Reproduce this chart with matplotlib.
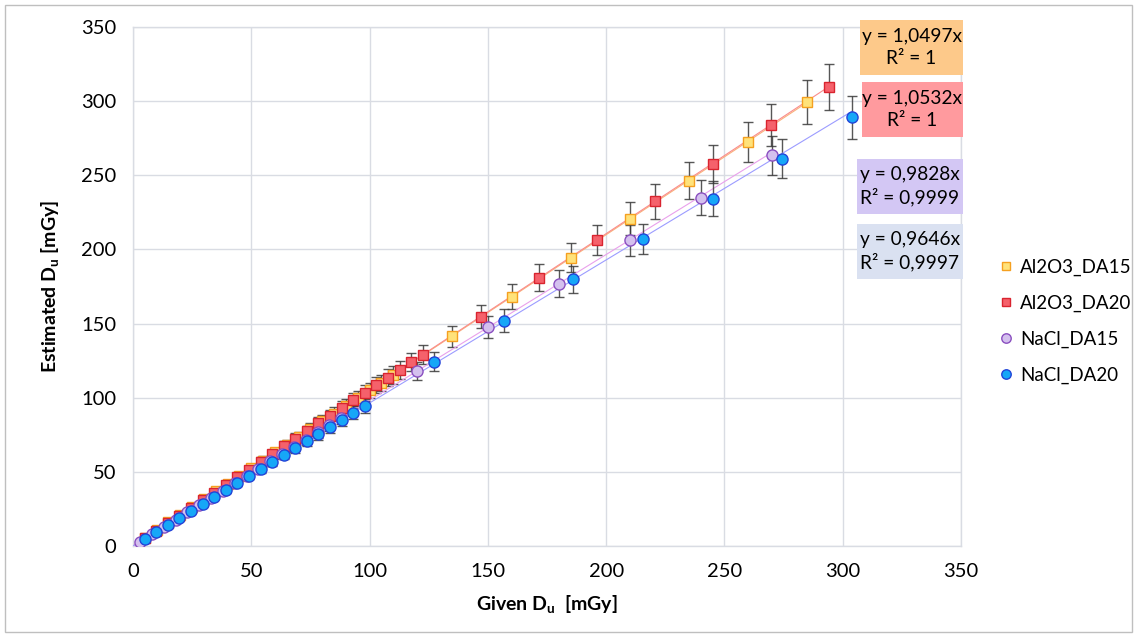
import matplotlib
matplotlib.use("Agg")
import matplotlib.pyplot as plt
from matplotlib.patches import Rectangle

plt.rcParams['font.family'] = ['Lato', 'DejaVu Sans']

# ---------------- data ----------------
a15_x = [5, 10, 15, 20, 25, 30, 35, 40, 45, 50, 55, 60, 65, 70, 75, 80, 85, 90, 95, 100,
         105, 110, 135, 160, 185, 210, 235, 260, 285]
a15_y = [5.4, 10.7, 15.9, 21.2, 26.4, 31.6, 37.2, 42.1, 47.3, 52.8, 57.6, 63.1, 68.3, 73.4,
         78.8, 84.0, 89.1, 94.5, 99.6, 105.0, 110.1, 115.3, 141.3, 168.0, 194.3, 220.8,
         246.4, 272.6, 299.3]

a20_x = [4.9, 9.8, 14.7, 19.6, 24.5, 29.4, 34.3, 39.2, 44.1, 49.0, 53.9, 58.8, 63.7, 68.6,
         73.5, 78.4, 83.3, 88.2, 93.1, 98.0, 102.9, 107.8, 112.7, 117.6, 122.5, 147.0,
         171.5, 196.0, 220.5, 245.0, 269.5, 294.0]
a20_y = [5.1, 10.4, 15.6, 20.5, 25.9, 31.0, 36.0, 41.4, 46.5, 51.5, 56.9, 61.8, 67.2, 72.3,
         77.3, 82.7, 87.6, 93.0, 98.2, 103.1, 108.5, 113.4, 118.8, 123.9, 128.9, 154.6,
         181.0, 206.3, 232.4, 257.6, 284.1, 309.3]

n15_x = [3, 8, 13, 18, 23, 28, 33, 38, 43, 48, 53, 58, 63, 68, 73, 78, 83, 88,
         120, 150, 180, 210, 240, 270]
n15_y = [2.9, 7.9, 12.8, 17.6, 22.7, 27.5, 32.5, 37.3, 42.3, 47.1, 52.2, 57.0, 61.9, 66.8,
         71.8, 76.6, 81.6, 86.5, 118.0, 147.6, 177.0, 206.2, 235.0, 263.4]

n20_x = [4.9, 9.8, 14.7, 19.6, 24.5, 29.4, 34.3, 39.2, 44.1, 49.0, 53.9, 58.8, 63.7, 68.6,
         73.5, 78.4, 83.3, 88.2, 93.1, 98.0, 127.4, 156.8, 186.2, 215.6, 245.0, 274.4, 303.8]
n20_y = [4.7, 9.5, 14.2, 18.9, 23.7, 28.3, 33.1, 37.8, 42.6, 47.3, 52.0, 56.7, 61.5, 66.1,
         70.9, 75.6, 80.4, 85.1, 89.8, 94.6, 124.3, 151.9, 179.9, 207.1, 234.2, 261.3, 289.2]

series_names = ["Al2O3_DA15", "Al2O3_DA20", "NaCl_DA15", "NaCl_DA20"]
slopes = [1.0497, 1.0532, 0.9828, 0.9646]
r2_labels = ["1", "1", "0,9999", "0,9997"]
slope_labels = ["1,0497", "1,0532", "0,9828", "0,9646"]
rel_err = 0.05  # relative uncertainty of the estimated dose

xticks = [0, 50, 100, 150, 200, 250, 300, 350]
yticks = [0, 50, 100, 150, 200, 250, 300, 350]

# ---------------- styling ----------------
W, H = 1137, 637
fig = plt.figure(figsize=(W / 100, H / 100), dpi=100)
ax = fig.add_axes([133 / W, 1 - 546 / H, (961 - 133) / W, (546 - 27) / H])

fig.patches.append(Rectangle((5 / W, 5 / H), (W - 10) / W, (H - 10) / H,
                             transform=fig.transFigure, fill=False,
                             edgecolor='#BFBFBF', linewidth=1.0, zorder=0))

grid_c = '#D9DCE3'
for sp in ax.spines.values():
    sp.set_color(grid_c)
    sp.set_linewidth(1.0)
ax.grid(True, color=grid_c, linewidth=1.0)
ax.set_axisbelow(True)

styles = [
    dict(marker='s', mfc='#FFE27A', mec='#F5A020', ms=7.5, line='#F9B27A'),
    dict(marker='s', mfc='#F5616B', mec='#D9242F', ms=7.5, line='#FA8C8C'),
    dict(marker='o', mfc='#D4C0EE', mec='#8A4FC0', ms=8, line='#E9A0EC'),
    dict(marker='o', mfc='#16A7F7', mec='#2244D8', ms=8, line='#9C9CFF'),
]
xs = [a15_x, a20_x, n15_x, n20_x]
ys = [a15_y, a20_y, n15_y, n20_y]

handles = []
for i in range(4):
    st = styles[i]
    x, y = xs[i], ys[i]
    err = [v * rel_err for v in y]
    ax.errorbar(x, y, yerr=err, fmt='none', ecolor='#3A3A3A', elinewidth=1.0,
                capsize=3.5, capthick=1.0, alpha=0.85, zorder=2 + i)
    xmax = max(x)
    ax.plot([0, xmax], [0, slopes[i] * xmax], color=st['line'], lw=0.8,
            zorder=2 + i)
    h, = ax.plot(x, y, linestyle='none', marker=st['marker'], mfc=st['mfc'],
                 mec=st['mec'], ms=st['ms'], mew=1.0, zorder=10 + i,
                 label=series_names[i])
    handles.append(h)

ax.set_xlim(0, 350)
ax.set_ylim(0, 350)
ax.set_xticks(xticks)
ax.set_yticks(yticks)
ax.tick_params(axis='both', length=0, labelsize=14.5, colors='#000000', pad=12)

ax.set_xlabel(r"Given D$_\mathregular{u}$  [mGy]", fontsize=14, fontweight='bold',
              labelpad=10)
ax.set_ylabel(r"Estimated D$_\mathregular{u}$ [mGy]", fontsize=14, fontweight='bold',
              labelpad=14)

# trend-line labels (boxes in pixel extents: left, top, right, bottom)
box_cols = ['#FDC98A', '#FF9A9E', '#D3C7F4', '#DAE1F1']
box_px = [(860, 20, 963, 75), (862, 82, 963, 137), (857, 159, 963, 214),
          (857, 224, 963, 279)]
for i in range(4):
    l, t, r, b = box_px[i]
    fig.patches.append(Rectangle((l / W, 1 - b / H), (r - l) / W, (b - t) / H,
                                 transform=fig.transFigure, facecolor=box_cols[i],
                                 edgecolor='none', zorder=1))
    fig.text((l + r) / 2 / W, 1 - (t + b) / 2 / H,
             f"y = {slope_labels[i]}x\nR² = {r2_labels[i]}",
             ha='center', va='center', fontsize=13.8, linespacing=1.3, zorder=2)

leg = fig.legend(handles=handles, loc='center left',
                 bbox_to_anchor=(992 / W, 1 - 321 / H), frameon=False,
                 fontsize=13.5, labelspacing=1.0, handlelength=0.7,
                 handletextpad=0.4, markerscale=0.85, borderaxespad=0)

fig.savefig("out.png", dpi=100)
